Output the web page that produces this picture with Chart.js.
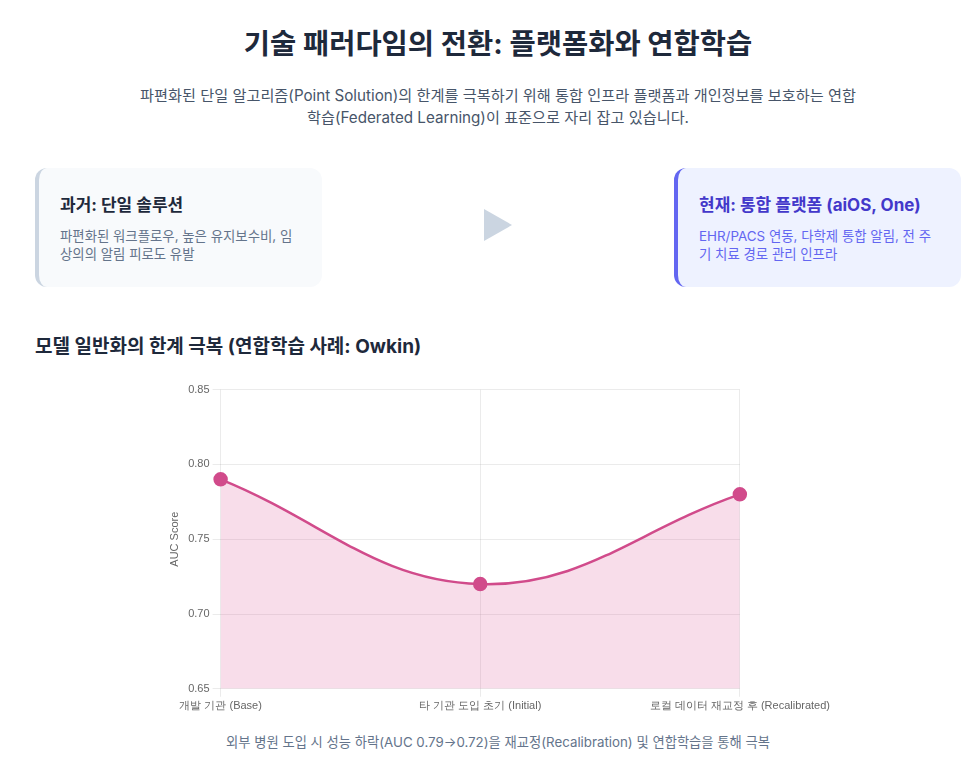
<!DOCTYPE html>
<html lang="ko">
<head>
<meta charset="utf-8">
<script src="https://cdn.jsdelivr.net/npm/chart.js@4.4.1/dist/chart.umd.min.js"></script>
<style>
  html,body{margin:0;padding:0;background:#fff;}
  body{width:975px;height:770px;position:relative;overflow:hidden;font-family:Inter,"Noto Sans CJK KR",sans-serif;}
  h1{position:absolute;left:10px;width:976px;top:22px;margin:0;text-align:center;font-size:28.5px;line-height:44px;font-weight:700;color:#1e293b;white-space:nowrap;}
  .sub{position:absolute;left:135px;width:726px;top:85px;margin:0;text-align:center;font-size:15.2px;line-height:22px;color:#475569;}
  .card{position:absolute;top:168px;width:287px;height:119px;border-radius:12px;box-sizing:border-box;padding:25px 22px 0 21px;}
  .card h3{margin:0;font-size:17px;font-weight:700;line-height:24px;}
  .card p{margin:10px 0 0 0;font-size:13.4px;line-height:18px;}
  .c1{left:35px;background:#f8fafc;border-left:4px solid #cbd5e1;}
  .c1 h3{color:#1e293b;} .c1 p{color:#64748b;}
  .c2{left:674px;background:#eef2ff;border-left:4px solid #6366f1;}
  .c2 h3{color:#4338ca;} .c2 p{color:#6366f1;}
  .arrow{position:absolute;left:484px;top:209px;width:0;height:0;border-top:16px solid transparent;border-bottom:16px solid transparent;border-left:28px solid #cbd5e1;}
  h2{position:absolute;left:35px;top:334px;margin:0;font-size:19px;line-height:26px;font-weight:700;color:#1e293b;}
  .wrap{position:absolute;left:164px;top:380px;width:669px;height:336px;}
  .cap{position:absolute;left:0;width:996px;top:732px;text-align:center;font-size:13.3px;line-height:20px;color:#64748b;margin:0;white-space:nowrap;}
</style>
</head>
<body>
<h1>기술 패러다임의 전환: 플랫폼화와 연합학습</h1>
<p class="sub">파편화된 단일 알고리즘(Point Solution)의 한계를 극복하기 위해 통합 인프라 플랫폼과 개인정보를 보호하는 연합학습(Federated Learning)이 표준으로 자리 잡고 있습니다.</p>
<div class="card c1"><h3>과거: 단일 솔루션</h3><p>파편화된 워크플로우, 높은 유지보수비, 임상의의 알림 피로도 유발</p></div>
<div class="arrow"></div>
<div class="card c2"><h3>현재: 통합 플랫폼 (aiOS, One)</h3><p>EHR/PACS 연동, 다학제 통합 알림, 전 주기 치료 경로 관리 인프라</p></div>
<h2>모델 일반화의 한계 극복 (연합학습 사례: Owkin)</h2>
<div class="wrap"><canvas id="c"></canvas></div>
<p class="cap">외부 병원 도입 시 성능 하락(AUC 0.79→0.72)을 재교정(Recalibration) 및 연합학습을 통해 극복</p>
<script>
const categories = ["개발 기관 (Base)", "타 기관 도입 초기 (Initial)", "로컬 데이터 재교정 후 (Recalibrated)"];
const aucValues = [0.79, 0.72, 0.78];
const yMin = 0.65, yMax = 0.85, yStep = 0.05;
const yTitle = "AUC Score";

new Chart(document.getElementById('c'), {
  type: 'line',
  data: {
    labels: categories,
    datasets: [{
      label: 'AUC',
      data: aucValues,
      borderColor: '#d14b8b',
      backgroundColor: 'rgba(214,69,139,0.18)',
      fill: true,
      tension: 0.4,
      borderWidth: 2.5,
      pointRadius: 6,
      pointHoverRadius: 6,
      pointBackgroundColor: '#d14b8b',
      pointBorderColor: '#d14b8b'
    }]
  },
  options: {
    responsive: true,
    maintainAspectRatio: false,
    animation: false,
    plugins: { legend: { display: false }, tooltip: { enabled: false } },
    scales: {
      y: {
        min: yMin, max: yMax,
        ticks: { stepSize: yStep, color: '#666', font: { size: 11 }, callback: v => v.toFixed(2) },
        title: { display: true, text: yTitle, color: '#666', font: { size: 11 } },
        grid: { color: 'rgba(0,0,0,0.08)' },
        border: { display: false }
      },
      x: {
        ticks: { color: '#666', font: { size: 11 }, maxRotation: 0 },
        grid: { color: 'rgba(0,0,0,0.08)' },
        border: { display: false }
      }
    }
  }
});
</script>
</body>
</html>
